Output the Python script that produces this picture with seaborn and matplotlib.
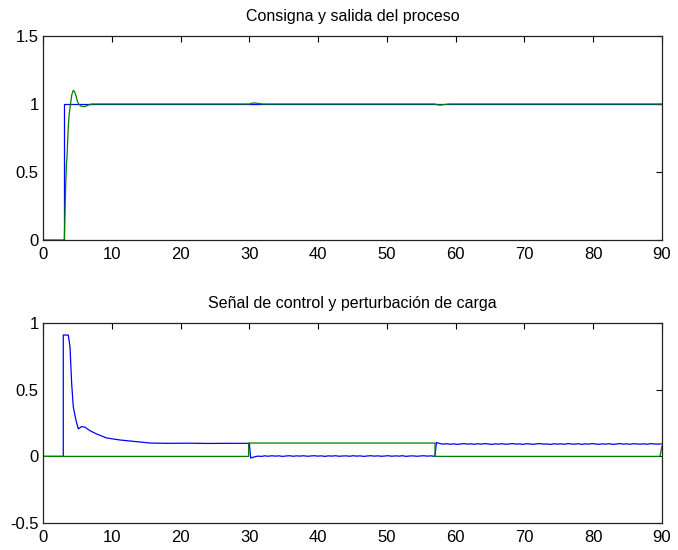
import numpy as np
import pandas as pd
import matplotlib
matplotlib.use("Agg")
import matplotlib.pyplot as plt
import seaborn as sns

# ---------------- data ----------------
# Setpoint (consigna)
t_ref = [0, 3.0, 3.0, 90]
ref = [0, 0, 1, 1]

# Process output (salida)
t_out = [0, 3.1, 3.2, 3.3, 3.4, 3.5, 3.6, 3.7, 3.8, 4.0, 4.2, 4.4, 4.6, 4.8, 5.0,
         5.2, 5.5, 6.0, 6.5, 7.0, 30.0, 30.4, 30.8, 31.3, 32.0, 57.0, 57.4, 57.8,
         58.3, 59.0, 90]
out = [0, 0, 0.2, 0.4, 0.55, 0.62, 0.75, 0.85, 0.92, 1.0, 1.07, 1.1, 1.09, 1.06, 1.02,
       1.0, 0.985, 0.98, 0.99, 1.0, 1.0, 1.006, 1.008, 1.004, 1.0, 1.0, 0.994, 0.992,
       0.996, 1.0, 1.0]

# Control signal (señal de control), transient part
t_u_a = [0, 2.95, 2.95, 3.68, 3.93, 4.17, 4.41, 4.8, 5.14, 5.62, 6.1, 6.83, 7.8,
         9.26, 11.2, 13.1, 15.6, 18, 21, 24, 27, 30.0]
u_a = [0, 0, 0.91, 0.91, 0.82, 0.545, 0.37, 0.27, 0.206, 0.224, 0.219, 0.193, 0.168,
       0.138, 0.123, 0.113, 0.1, 0.098, 0.099, 0.097, 0.098, 0.098]

# Control signal between 30 and 57 (noisy, around 0)
u_b = [-0.012, -0.004, 0.002, 0.000, 0.004, 0.001, 0.005, 0.002, 0.004, 0.000,
       0.003, 0.005, 0.001, 0.004, 0.002, 0.005, 0.001, 0.003, 0.005, 0.002,
       0.004, 0.000, 0.004, 0.002, 0.005, 0.001, 0.003, 0.004, 0.001, 0.005,
       0.002, 0.004, 0.000, 0.003, 0.005, 0.002, 0.004, 0.001, 0.003, 0.005,
       0.001, 0.004, 0.002, 0.005, 0.000, 0.003, 0.004, 0.001, 0.003, 0.005,
       0.002, 0.004, 0.001]
t_b_start, t_b_end = 30.2, 56.9

# Control signal between 57 and 90 (noisy, around 0.09)
u_c = [0.104, 0.096, 0.092, 0.095, 0.091, 0.094, 0.090, 0.093, 0.096, 0.092,
       0.094, 0.091, 0.095, 0.092, 0.096, 0.093, 0.090, 0.094, 0.092, 0.095,
       0.091, 0.093, 0.096, 0.092, 0.094, 0.090, 0.095, 0.093, 0.091, 0.094,
       0.096, 0.092, 0.093, 0.090, 0.095, 0.092, 0.094, 0.091, 0.096, 0.093,
       0.092, 0.095, 0.090, 0.094, 0.092, 0.096, 0.093, 0.091, 0.094, 0.092,
       0.095, 0.090, 0.093, 0.096, 0.092, 0.094, 0.091, 0.095, 0.093, 0.092,
       0.094, 0.091, 0.096, 0.093, 0.092, 0.094]
t_c_start, t_c_end = 57.2, 89.9

# Load disturbance (perturbación de carga)
t_d = [0, 29.9, 29.9, 57.0, 57.0, 89.7, 90]
dist = [0, 0, 0.1, 0.1, 0, 0, 0.08]

# ---------------- build frames ----------------
t_u = (list(t_u_a)
       + list(np.linspace(t_b_start, t_b_end, len(u_b)))
       + [57.0]
       + list(np.linspace(t_c_start, t_c_end, len(u_c))))
u = list(u_a) + list(u_b) + [0.003] + list(u_c)

df_ref = pd.DataFrame({"t": t_ref, "v": ref})
df_out = pd.DataFrame({"t": t_out, "v": out})
df_u = pd.DataFrame({"t": t_u, "v": u})
df_d = pd.DataFrame({"t": t_d, "v": dist})

# ---------------- plot ----------------
sns.set_style("white")
plt.rcParams['font.family'] = ['Liberation Sans', 'DejaVu Sans']
plt.rcParams['text.color'] = 'black'

BLUE = "#0000ff"
GREEN = "#008000"

fig = plt.figure(figsize=(6.78, 5.5), dpi=100)
ax1 = fig.add_axes([0.0634, 0.5636, 0.913, 0.3709])
ax2 = fig.add_axes([0.0634, 0.049, 0.913, 0.3636])

sns.lineplot(data=df_ref, x="t", y="v", ax=ax1, color=BLUE, lw=0.9,
             estimator=None, sort=False)
sns.lineplot(data=df_out, x="t", y="v", ax=ax1, color=GREEN, lw=0.9,
             estimator=None, sort=False)
sns.lineplot(data=df_u, x="t", y="v", ax=ax2, color=BLUE, lw=0.9,
             estimator=None, sort=False)
sns.lineplot(data=df_d, x="t", y="v", ax=ax2, color=GREEN, lw=0.9,
             estimator=None, sort=False)

for ax in (ax1, ax2):
    ax.set_xlim(0, 90)
    ax.set_xticks(range(0, 91, 10))
    ax.set_xlabel("")
    ax.set_ylabel("")
    ax.tick_params(direction="in", length=4.5, width=0.8, top=True, right=True,
                   labelsize=12, colors="black")
    ax.tick_params(axis="x", pad=5)
    ax.tick_params(axis="y", pad=3)
    for s in ax.spines.values():
        s.set_visible(True)
        s.set_color("#222222")
        s.set_linewidth(0.9)

ax1.set_ylim(0, 1.5)
ax1.set_yticks([0, 0.5, 1, 1.5])
ax1.set_yticklabels(["0", "0.5", "1", "1.5"])
ax2.set_ylim(-0.5, 1)
ax2.set_yticks([-0.5, 0, 0.5, 1])
ax2.set_yticklabels(["-0.5", "0", "0.5", "1"])

ax1.set_title("Consigna y salida del proceso", fontsize=11.5, pad=11, color="black")
ax2.set_title("Señal de control y perturbación de carga", fontsize=11.5, pad=11,
              color="black")

fig.savefig("out.png", dpi=100)
